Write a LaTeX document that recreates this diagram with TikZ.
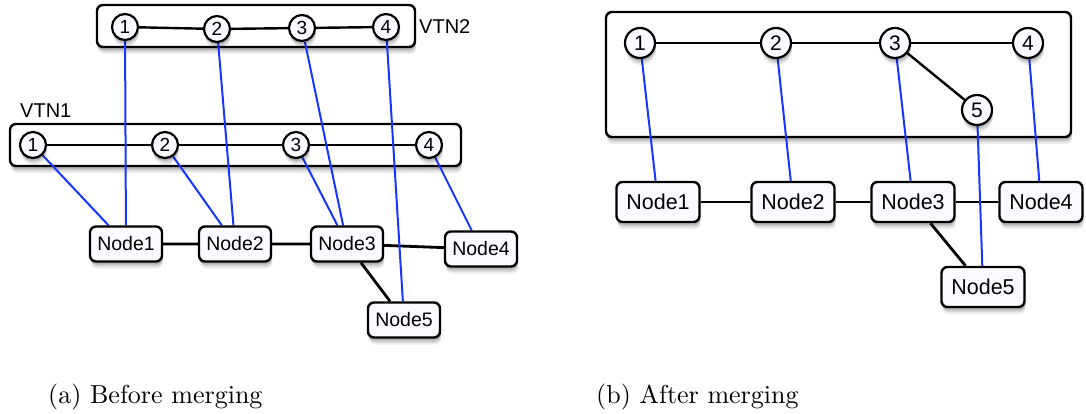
\documentclass[tikz,border=0pt]{standalone}
\usepackage{fontspec}
\newfontfamily\helv{Liberation Sans}
\newfontfamily\capfont{lmroman10-regular.otf}
\pgfdeclarelayer{boxes}
\pgfdeclarelayer{links}
\pgfsetlayers{boxes,links,main}
\definecolor{nodefill}{RGB}{251,250,255}
\definecolor{linkblue}{RGB}{20,55,255}
\tikzset{
  % soft drop shadow built from a few offset, translucent copies
  softshadow/.style={
    preaction={fill=black,draw=none,opacity=0.07,transform canvas={xshift=1pt,yshift=-7pt}},
    preaction={fill=black,draw=none,opacity=0.10,transform canvas={xshift=1pt,yshift=-5pt}},
    preaction={fill=black,draw=none,opacity=0.15,transform canvas={xshift=0.5pt,yshift=-3pt}}},
  vnode/.style={circle,draw,line width=2.2pt,fill=nodefill,inner sep=0pt,softshadow},
  vnodeL/.style={vnode,minimum size=26pt,font=\helv\fontsize{19}{19}\selectfont},
  vnodeR/.style={vnode,minimum size=30pt,font=\helv\fontsize{21}{21}\selectfont},
  pnode/.style={rectangle,rounded corners=6pt,draw,line width=2.4pt,fill=nodefill,inner sep=0pt,softshadow},
  pnodeL/.style={pnode,minimum width=72pt,minimum height=35pt,font=\helv\fontsize{19.5}{19.5}\selectfont},
  pnodeR/.style={pnode,minimum width=83pt,minimum height=40pt,font=\helv\fontsize{21.5}{21.5}\selectfont},
  vtnbox/.style={draw,line width=2.4pt,rounded corners=6pt,fill=white,softshadow},
  vlink/.style={line width=2.4pt,black},
  plink/.style={line width=2.8pt,black},
  mapping/.style={line width=2pt,linkblue},
  vtnlabel/.style={font=\helv\fontsize{20}{20}\selectfont,inner sep=0pt},
  caption/.style={font=\capfont\fontsize{26}{26}\selectfont,inner sep=0pt,anchor=base west}
}
\begin{document}
\begin{tikzpicture}[x=1pt,y=-1pt]
\useasboundingbox (0,0) rectangle (1086,413);

% VTN frames, kept below everything else
\begin{pgfonlayer}{boxes}
  \node[vtnbox,minimum width=318pt,minimum height=42pt] (boxB) at (256,26) {};
  \node[vtnbox,minimum width=451pt,minimum height=42pt] (boxA) at (235.5,145) {};
  \node[vtnbox,minimum width=465pt,minimum height=125pt] (boxM) at (838.5,74.5) {};
\end{pgfonlayer}

% ---------- (a) before merging ----------
% virtual nodes of VTN2
\node[vnodeL] (b1) at (125,27) {1};
\node[vnodeL] (b2) at (217,29) {2};
\node[vnodeL] (b3) at (302,28) {3};
\node[vnodeL] (b4) at (386,27) {4};
\node[vtnlabel,anchor=west] (vtn2) at (419,27) {VTN2};
% virtual nodes of VTN1
\node[vnodeL] (a1) at (33,145) {1};
\node[vnodeL] (a2) at (165,145) {2};
\node[vnodeL] (a3) at (296,145) {3};
\node[vnodeL] (a4) at (429,145) {4};
\node[vtnlabel,anchor=west] (vtn1) at (20,111) {VTN1};
% physical nodes
\node[pnodeL] (p1) at (126,244) {Node1};
\node[pnodeL] (p2) at (235,244) {Node2};
\node[pnodeL] (p3) at (347,244) {Node3};
\node[pnodeL] (p4) at (481,249) {Node4};
\node[pnodeL] (p5) at (404,320) {Node5};

% ---------- (b) after merging ----------
\node[vnodeR] (m1) at (640,43) {1};
\node[vnodeR] (m2) at (776,43) {2};
\node[vnodeR] (m3) at (895,43) {3};
\node[vnodeR] (m4) at (1028,43) {4};
\node[vnodeR] (m5) at (977,110) {5};

\node[pnodeR] (q1) at (658,202) {Node1};
\node[pnodeR] (q2) at (793,202) {Node2};
\node[pnodeR] (q3) at (913,202) {Node3};
\node[pnodeR] (q4) at (1041,202) {Node4};
\node[pnodeR] (q5) at (983,287) {Node5};

% links and mappings, under the nodes but above the frames
\begin{pgfonlayer}{links}
  \draw[vlink] (b1) -- (b2) -- (b3) -- (b4);
  \draw[vlink] (a1) -- (a2) -- (a3) -- (a4);
  \draw[plink] (p1) -- (p2) -- (p3) -- (p4);
  \draw[plink] (p3) -- (p5);
  \draw[mapping] (a1) -- (p1);
  \draw[mapping] (b1) -- (p1);
  \draw[mapping] (a2) -- (p2);
  \draw[mapping] (b2) -- (p2);
  \draw[mapping] (a3) -- (p3);
  \draw[mapping] (b3) -- (p3);
  \draw[mapping] (b4) -- (p5);
  \draw[mapping] (a4) -- (p4);

  \draw[vlink] (m1) -- (m2) -- (m3) -- (m4);
  \draw[vlink] (m3) -- (m5);
  \draw[plink] (q1) -- (q2) -- (q3) -- (q4);
  \draw[plink] (q3) -- (q5);
  \draw[mapping] (m1) -- (q1);
  \draw[mapping] (m2) -- (q2);
  \draw[mapping] (m3) -- (q3);
  \draw[mapping] (m4) -- (q4);
  \draw[mapping] (m5) -- (q5);
\end{pgfonlayer}

% ---------- captions ----------
\node[caption] (capA) at (48,403) {(a) Before merging};
\node[caption] (capB) at (596,403) {(b) After merging};
\end{tikzpicture}
\end{document}
